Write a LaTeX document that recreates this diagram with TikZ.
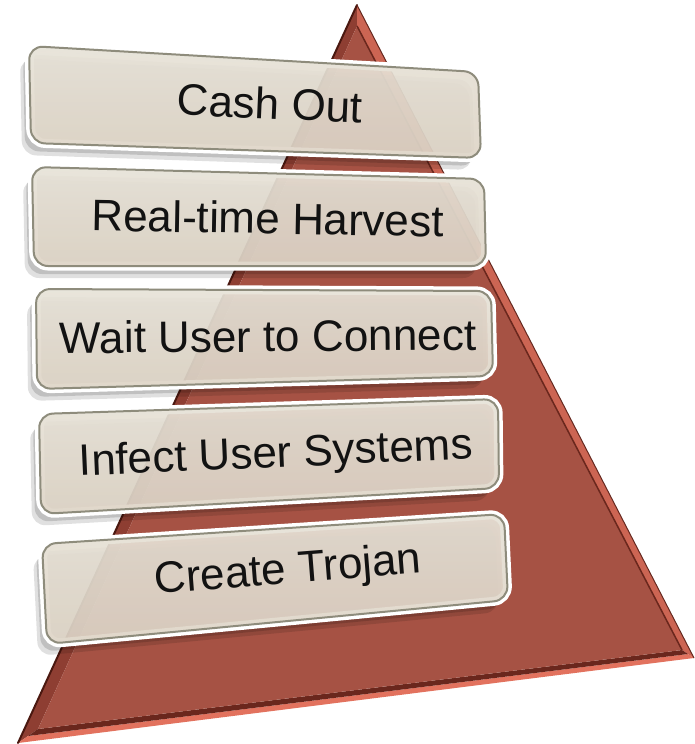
\documentclass[tikz,border=0pt]{standalone}
\usepackage{fontspec}
\setmainfont{Liberation Sans}
\usepackage{tikz}
\usetikzlibrary{calc, positioning}
\definecolor{pyrred}{HTML}{A65244}
\definecolor{pyrdark}{HTML}{4A1810}
\definecolor{pyrleft}{HTML}{8E3E32}
\definecolor{pyrright}{HTML}{CC6553}
\definecolor{pyrlow}{HTML}{E2725E}
\definecolor{pyrshade}{HTML}{6A271D}
\definecolor{boxtop}{HTML}{E7E3D8}
\definecolor{boxbot}{HTML}{DED4C6}
\definecolor{boxline}{HTML}{8E8C7C}
\newcommand{\stagefontsize}{44}
% one stage of the pyramid: corners top left, top right, bottom right, bottom left
\newcommand{\stagebox}[4]{%
  \fill[black, opacity=0.12, xshift=-9pt, yshift=-12pt, rounded corners=14pt] #1 -- #2 -- #3 -- #4 -- cycle;
  \fill[black, opacity=0.14, xshift=-6pt, yshift=-8pt, rounded corners=14pt] #1 -- #2 -- #3 -- #4 -- cycle;
  \draw[white, line width=9pt, rounded corners=14pt] #1 -- #2 -- #3 -- #4 -- cycle;
  \draw[boxline, line width=2pt, top color=boxtop, bottom color=boxbot, fill opacity=0.92, rounded corners=14pt] #1 -- #2 -- #3 -- #4 -- cycle;
}

\begin{document}
\begin{tikzpicture}[x=1pt, y=-1pt]
  \useasboundingbox (0,0) rectangle (694,744);
  \tikzstyle{stagetext}=[font=\fontsize{\stagefontsize}{50}\selectfont, text=black!93, inner sep=0pt]

  % pyramid: outer and inner corners
  \coordinate (A) at (357,5);
  \coordinate (B) at (18,743);
  \coordinate (C) at (694,658);
  \coordinate (a) at (357,26);
  \coordinate (b) at (38,729);
  \coordinate (c) at (682,650);
  \coordinate (mB) at ($(B)!0.5!(b)$);
  \coordinate (mC) at ($(C)!0.5!(c)$);

  \begin{scope}
    \fill[pyrleft] (A) -- (B) -- (b) -- (a) -- cycle;
    \fill[pyrright] (A) -- (a) -- (c) -- (C) -- cycle;
    \fill[pyrlow] (B) -- (C) -- (mC) -- (mB) -- cycle;
    \fill[pyrshade] (mB) -- (mC) -- (c) -- (b) -- cycle;
    \fill[pyrred] (a) -- (b) -- (c) -- cycle;
    \draw[pyrshade, line width=1.5pt] (a) -- (c);
    \draw[pyrdark, line width=2pt, line cap=round] (A) -- (B);
    \draw[pyrdark!70!pyrred, line width=1pt] (A) -- (C);
  \end{scope}

  % stages, from the top down
  \stagebox{(29,46)}{(478,72)}{(481,158)}{(31,143)}
  \stagebox{(32,167)}{(484,179)}{(486,266)}{(34,266)}
  \stagebox{(36,289)}{(491,291)}{(493,376)}{(37,389)}
  \stagebox{(39,414)}{(498,399)}{(499,488)}{(41,514)}
  \stagebox{(42,544)}{(504,514)}{(508,600)}{(47,644)}

  \node[stagetext, rotate=-2.5] (cashout) at (270,103) {Cash Out};
  \node[stagetext, rotate=-1] (harvest) at (268,218) {Real-time Harvest};
  \node[stagetext, rotate=0.5] (connect) at (268,336) {Wait User to Connect};
  \node[stagetext, rotate=2.5] (infect) at (276,456) {Infect User Systems};
  \node[stagetext, rotate=4.5] (trojan) at (288,572) {Create Trojan};
\end{tikzpicture}
\end{document}
